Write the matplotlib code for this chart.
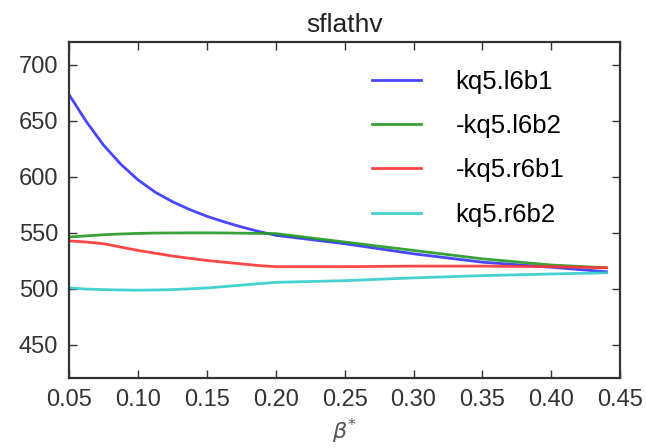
import matplotlib
matplotlib.use("Agg")
import matplotlib.pyplot as plt

beta = [0.05, 0.0625, 0.075, 0.0875, 0.10, 0.1125, 0.125, 0.1375, 0.15, 0.1625, 0.175, 0.1875,
        0.20, 0.25, 0.30, 0.35, 0.40, 0.44]
kq5_l6b1 = [673, 649, 628, 611, 597, 586, 577.5, 570.5, 564.5, 559.5, 555, 551,
            547.5, 540, 531, 523.5, 519, 515]
kq5_l6b2 = [546, 547, 548, 548.7, 549.2, 549.5, 549.6, 549.7, 549.7, 549.6, 549.4, 549.2,
            549, 541.5, 534, 526.5, 521, 518.5]
kq5_r6b1 = [542.5, 541.5, 540, 537, 534, 531.5, 529, 527, 525, 523.5, 522, 520.5,
            519.5, 519.5, 520, 520, 519.5, 518.5]
kq5_r6b2 = [500.5, 499.5, 499, 498.7, 498.5, 498.7, 499, 499.7, 500.5, 501.7, 503, 504.3,
            505.5, 507, 509.5, 511.5, 513, 514]
labels = ["kq5.l6b1", "-kq5.l6b2", "-kq5.r6b1", "kq5.r6b2"]
colors = ["#3333ff", "#229922", "#ff3333", "#33cccc"]

plt.rcParams['font.family'] = ['Liberation Sans', 'DejaVu Sans']
fig = plt.figure(figsize=(6.46, 4.48), dpi=100)
ax = fig.add_axes([0.107, 0.156, 0.853, 0.75])
for ys, lab, c in zip([kq5_l6b1, kq5_l6b2, kq5_r6b1, kq5_r6b2], labels, colors):
    ax.plot(beta, ys, color=c, lw=2.0, alpha=0.9, label=lab)

ax.set_xlim(0.05, 0.45)
ax.set_ylim(420, 720)
ax.set_xticks([0.05, 0.10, 0.15, 0.20, 0.25, 0.30, 0.35, 0.40, 0.45])
ax.set_xticklabels(["0.05", "0.10", "0.15", "0.20", "0.25", "0.30", "0.35", "0.40", "0.45"])
ax.set_yticks([450, 500, 550, 600, 650, 700])
ax.tick_params(direction='in', top=True, right=True, labelsize=17, length=6, width=1, pad=8,
               colors='#333333', labelcolor='#333333')
for s in ax.spines.values():
    s.set_linewidth(1.6)
    s.set_color('#333333')
ax.set_title("sflathv", fontsize=19, color='#222222', pad=7)
ax.set_xlabel(r"$\beta^{*}$", fontsize=16, color='#555555', labelpad=4)
ax.legend(loc='upper right', bbox_to_anchor=(0.95, 1.0), frameon=False, fontsize=18.5,
          handlelength=1.9, handletextpad=1.35, labelspacing=0.78, borderaxespad=0.7)
fig.savefig("out.png", dpi=100, facecolor='white')
